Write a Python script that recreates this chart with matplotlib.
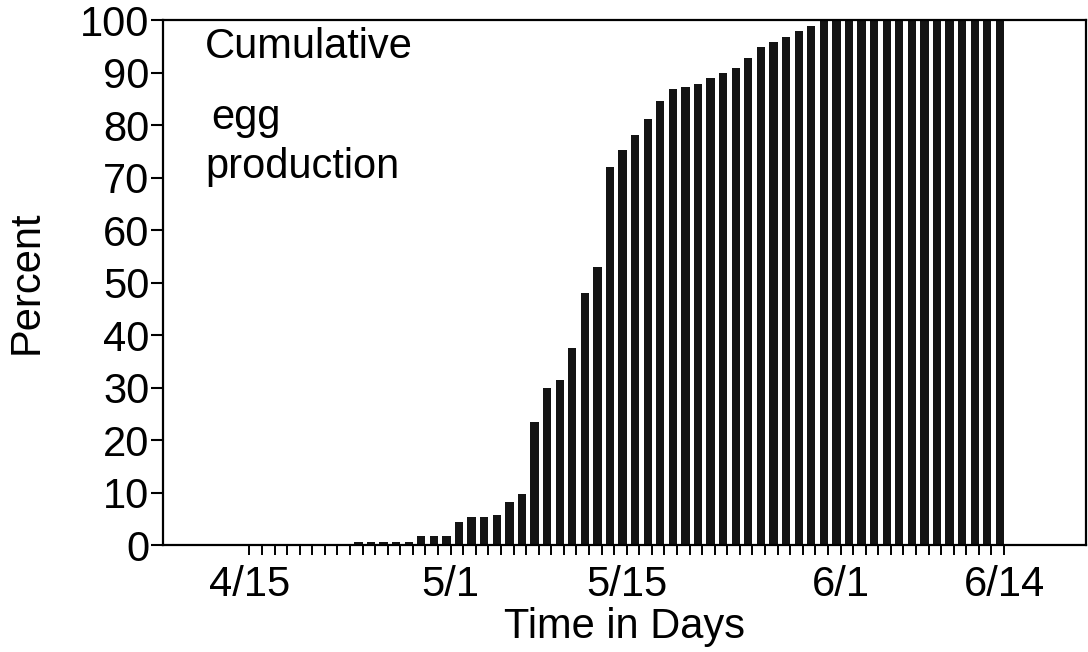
import matplotlib
matplotlib.use("Agg")
import matplotlib.pyplot as plt
import numpy as np

plt.rcParams['font.family'] = ['Liberation Sans', 'DejaVu Sans']

# days counted from 4/15 (day 0); one bar per day from 4/24 to 6/14
first_day = 9
percent = [0.5, 0.5, 0.5, 0.5, 0.5,
           1.7, 1.7, 1.7, 4.4, 5.3, 5.3, 5.8, 8.2, 9.8,
           23.5, 30.0, 31.4, 37.5, 48.0, 53.0,
           72.0, 75.2, 78.2, 81.2, 84.6, 86.9, 87.3, 87.8, 89.0, 89.9,
           90.9, 92.8, 94.9, 95.8, 96.8, 97.9, 98.9,
           100, 100, 100, 100, 100, 100, 100, 100, 100, 100,
           100, 100, 100, 100, 100]
days = np.arange(first_day, first_day + len(percent))

label_days = [0, 16, 30, 47, 60]
label_text = ['4/15', '5/1', '5/15', '6/1', '6/14']
y_ticks = [0, 10, 20, 30, 40, 50, 60, 70, 80, 90, 100]

FS = 30

fig = plt.figure(figsize=(10.88, 6.52), dpi=100)
ax = fig.add_axes([0.150, 0.164, 0.848, 0.805])

# bars sit just left of each day tick
ax.bar(days, percent, width=-0.66, align='edge', color='#141414', edgecolor='none')

ax.set_xlim(-6.85, 66.5)
ax.set_ylim(0, 100)

for s in ax.spines.values():
    s.set_linewidth(1.6)
    s.set_color('black')

ax.set_yticks(y_ticks)
ax.set_yticklabels([str(v) for v in y_ticks], fontsize=FS)
ax.tick_params(axis='y', direction='out', length=9, width=1.5, pad=1)

ax.set_xticks(label_days)
ax.set_xticklabels(label_text, fontsize=FS)
ax.set_xticks(np.arange(0, 61), minor=True)
ax.tick_params(axis='x', which='major', direction='out', length=7, width=1.4, pad=7)
ax.tick_params(axis='x', which='minor', direction='out', length=7, width=1.4)

ax.set_xlabel('Time in Days', fontsize=FS, labelpad=2)
ax.set_ylabel('Percent', fontsize=FS, labelpad=24)

ax.text(205 / 1088, 1 - 58 / 652, 'Cumulative', fontsize=FS, transform=fig.transFigure, va='baseline')
ax.text(211 / 1088, 1 - 129 / 652, 'egg', fontsize=FS, transform=fig.transFigure, va='baseline')
ax.text(205 / 1088, 1 - 178 / 652, 'production', fontsize=FS, transform=fig.transFigure, va='baseline')

fig.savefig('out.png', dpi=100)
